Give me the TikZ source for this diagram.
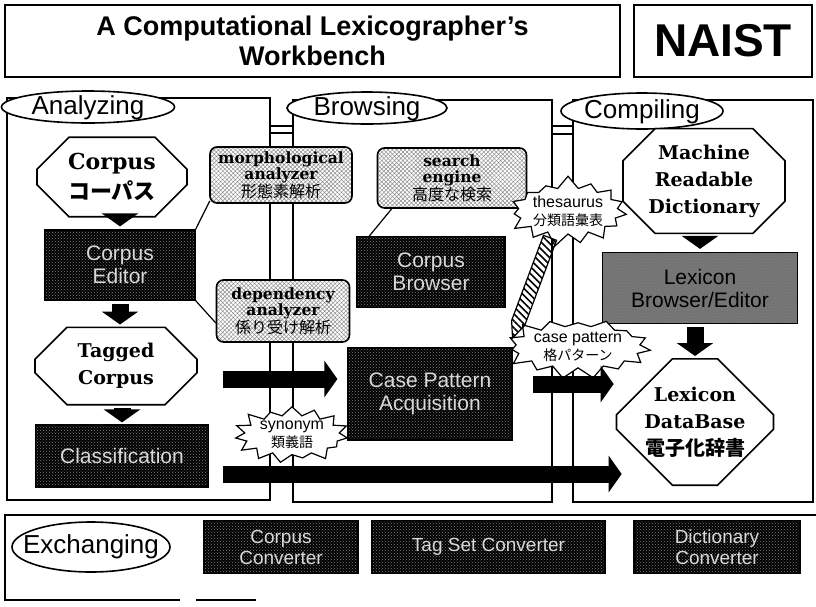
\documentclass[tikz,border=0pt]{standalone}
\usepackage{fontspec}
\setmainfont{DejaVu Serif}
\setsansfont{Liberation Sans}
\newfontfamily\jp{Noto Sans CJK JP}
\usetikzlibrary{shapes.geometric, shapes.misc, shapes.symbols, arrows.meta, patterns, patterns.meta, calc}
\newcommand{\sizept}[2]{\fontsize{#1}{#2}\selectfont}

\begin{document}
\begin{tikzpicture}[x=1pt, y=-1pt,
  panel/.style={draw, line width=1.6pt},
  headbox/.style={rectangle, draw, line width=1.6pt, align=center, inner sep=0pt, font=\sffamily\bfseries},
  tag/.style={ellipse, draw, line width=1.6pt, fill=white, inner sep=0pt},
  tagtext/.style={font=\sffamily\sizept{26}{26}, inner sep=0pt},
  octa/.style={chamfered rectangle, chamfered rectangle xsep=16pt, chamfered rectangle ysep=16pt, draw, line width=1.6pt, fill=white, align=center, inner sep=0pt, font=\bfseries\sizept{19}{27}},
  softbox/.style={rectangle, rounded corners=7pt, draw, line width=1.6pt, preaction={fill=white}, pattern={Hatch[angle=45, distance=3pt, line width=0.5pt]}, pattern color=black!45, align=center, inner sep=0pt, font=\bfseries\sizept{15.5}{16}},
  darkbox/.style={rectangle, draw, line width=1.2pt, preaction={fill=black}, pattern=crosshatch dots, pattern color=gray, text=white!85!black, align=center, inner sep=0pt, font=\sffamily\sizept{21}{23}},
  burst/.style={starburst, starburst points=15, starburst point height=13pt, draw, line width=1.2pt, fill=white, align=center, inner sep=0pt, font=\sffamily\sizept{16}{18}},
  link/.style={line width=1.2pt},
  bigarrow/.style={line width=17pt, -{Triangle[length=13pt, width=36pt]}},
  hatcharrow/.style={draw, line width=1.2pt, pattern={Lines[angle=-45, distance=5pt, line width=1.6pt]}},
]
\useasboundingbox (0,0) rectangle (816,606);

% heading
\node[headbox, minimum width=615pt, minimum height=72pt, font=\sffamily\bfseries\sizept{27}{30}] (title) at (312.5,41) {A Computational Lexicographer’s\\Workbench};
\node[headbox, minimum width=178pt, minimum height=72pt, font=\sffamily\bfseries\sizept{46}{46}] (naist) at (723,41) {NAIST};

% panels
\draw[panel] (7,98) rectangle (270,500);
\draw[panel] (293,100) rectangle (552,502);
\draw[panel] (573,100) rectangle (813,502);
\draw[line width=1.6pt] (270,126) -- (293,126) (270,133) -- (293,133);
\draw[line width=1.6pt] (552,126) -- (573,126) (552,134) -- (573,134);
\draw[panel] (816,515) -- (5,515) -- (5,600) -- (180,600);
\draw[panel] (196,600) -- (256,600);

\node[tag, minimum width=173pt, minimum height=32pt, label={[tagtext, yshift=-1pt]center:Analyzing}] (analyzing) at (88,107) {};
\node[tag, minimum width=160pt, minimum height=32pt, label={[tagtext, yshift=-1pt]center:Browsing}] (browsing) at (367,108) {};
\node[tag, minimum width=162pt, minimum height=36pt, label={[tagtext, yshift=-1pt]center:Compiling}] (compiling) at (642,111) {};
\node[tag, minimum width=158pt, minimum height=50pt, label={[tagtext]center:Exchanging}] (exchanging) at (91,547) {};

% analyzing
\node[octa, minimum width=150pt, minimum height=60pt, font=\bfseries\sizept{22}{30}] (corpus) at (112,177) {Corpus\\{\jp コーパス}};
\node[darkbox, minimum width=150pt, minimum height=70pt] (editor) at (120,265) {Corpus\\Editor};
\node[octa, minimum width=162pt, minimum height=63pt] (tagged) at (116,366) {Tagged\\Corpus};
\node[darkbox, minimum width=173pt, minimum height=62pt] (class) at (122,456) {Classification};
\node[softbox, minimum width=142pt, minimum height=56pt] (morph) at (281,175) {morphological\\analyzer\\{\jp\mdseries\sizept{16}{16}形態素解析}};
\node[softbox, minimum width=133pt, minimum height=62pt] (dep) at (283,311) {dependency\\analyzer\\{\jp\mdseries\sizept{16}{16}係り受け解析}};

% browsing
\node[softbox, minimum width=149pt, minimum height=60pt] (search) at (452,178) {search\\engine\\{\jp\mdseries\sizept{16}{16}高度な検索}};
\node[darkbox, minimum width=148pt, minimum height=71pt] (cbrowser) at (431,272) {Corpus\\Browser};
\node[darkbox, minimum width=164pt, minimum height=92pt] (casebox) at (430,394) {Case Pattern\\Acquisition};

% compiling
\node[octa, minimum width=162pt, minimum height=82pt] (mrd) at (704,181) {Machine\\Readable\\Dictionary};
\node[darkbox, minimum width=195pt, minimum height=71pt, preaction={fill=black!55}, text=black] (lexbrowser) at (700,288) {Lexicon\\Browser/Editor};
\node[octa, minimum width=156pt, minimum height=121pt, chamfered rectangle xsep=28pt, chamfered rectangle ysep=28pt] (lexdb) at (695,422) {Lexicon\\DataBase\\{\jp\sizept{20}{27}電子化辞書}};

% resources
\node[burst, random starburst=7, minimum width=120pt, minimum height=72pt] (thesaurus) at (568,211) {thesaurus\\{\jp\sizept{14}{18}分類語彙表}};
\node[burst, random starburst=23, minimum width=133pt, minimum height=60pt] (casepat) at (578,347) {case pattern\\{\jp\sizept{14}{18}格パターン}};
\node[burst, random starburst=41, minimum width=121pt, minimum height=60pt] (synonym) at (292,435) {synonym\\{\jp\sizept{14}{18}類義語}};

% exchanging
\node[darkbox, minimum width=154pt, minimum height=53pt, font=\sffamily\sizept{19}{21}] (cconv) at (281,547) {Corpus\\Converter};
\node[darkbox, minimum width=233pt, minimum height=53pt, font=\sffamily\sizept{19}{21}] (tconv) at (488.5,547) {Tag Set Converter};
\node[darkbox, minimum width=166pt, minimum height=53pt, font=\sffamily\sizept{19}{21}] (dconv) at (717,547) {Dictionary\\Converter};

% links
\draw[link] (morph.200) -- (editor.north east);
\draw[link] (editor.south east) -- (dep.190);
\draw[link] ([xshift=15pt]search.south west) -- ([xshift=13pt]cbrowser.north west);

% block arrows
\draw[bigarrow, shorten <=1pt, shorten >=3pt] (editor.north |- corpus.south) -- (editor.north);
\draw[bigarrow, shorten <=3pt, shorten >=2pt] (editor.south) -- (editor.south |- tagged.north);
\draw[bigarrow, shorten <=2pt, shorten >=2pt] (class.north |- tagged.south) -- (class.north);
\draw[bigarrow] ([shift={(25,13)}]tagged.east) -- ([shift={(-10,-15)}]casebox.west);
\draw[bigarrow] ([shift={(14,18)}]class.east) -- ([shift={(6,52)}]lexdb.west);
\draw[bigarrow] ([shift={(20,-10)}]casebox.east) -- ([shift={(-2,-38)}]lexdb.west);
\draw[bigarrow, shorten <=3pt, shorten >=3pt] (lexbrowser.north |- mrd.south) -- (lexbrowser.north);
\draw[bigarrow, shorten <=3pt, shorten >=2pt] (lexdb.north |- lexbrowser.south) -- (lexdb.north);

% striped arrow
\coordinate (hatchtop) at ([shift={(-18,3)}]thesaurus.south);
\coordinate (hatchtip) at ([shift={(-1,-9)}]casepat.west);
\coordinate (hatchbase) at ($(hatchtip)!16pt!(hatchtop)$);
\path[hatcharrow] ($(hatchtop)!7pt!90:(hatchtip)$) -- ($(hatchbase)!7pt!-90:(hatchtop)$) -- (hatchtip)
  -- ($(hatchbase)!7pt!90:(hatchtop)$) -- ($(hatchtop)!7pt!-90:(hatchtip)$) -- cycle;
\end{tikzpicture}
\end{document}
